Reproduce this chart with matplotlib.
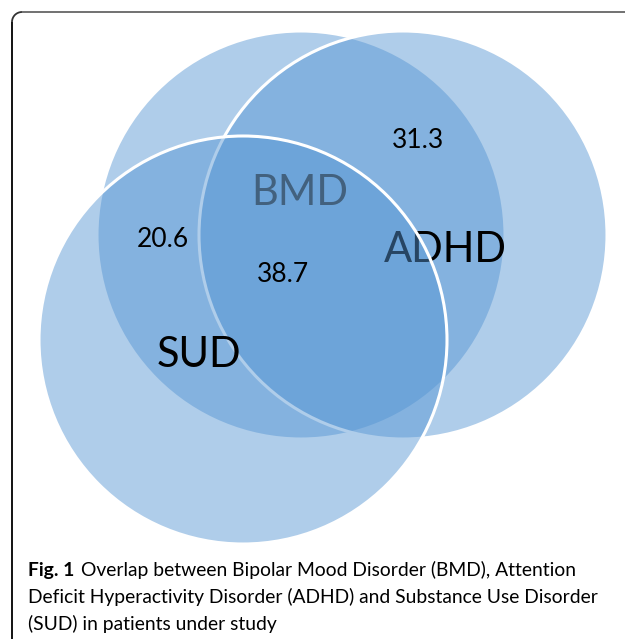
import matplotlib.pyplot as plt
from matplotlib.patches import Circle, Arc

# circle sets (pixel coords of the original figure)
sets = ["BMD", "ADHD", "SUD"]
centers = [(301, 235), (403, 235), (243, 340)]
radius = 204
set_label_pos = [(300, 205), (445, 262), (199, 367)]
set_label_colors = ["#333333", "black", "black"]
set_label_z = [2.5, 2.5, 4]

# overlap percentages
values = ["31.3", "20.6", "38.7"]
value_pos = [(418, 148), (163, 247), (283, 282)]

caption_bold = "Fig. 1"
caption_lines = [
    "Overlap between Bipolar Mood Disorder (BMD), Attention",
    "Deficit Hyperactivity Disorder (ADHD) and Substance Use Disorder",
    "(SUD) in patients under study",
]

fill = (85 / 255, 149 / 255, 211 / 255, 0.47)

fig = plt.figure(figsize=(6.25, 6.39), dpi=100)
ax = fig.add_axes([0, 0, 1, 1])
ax.set_xlim(0, 625)
ax.set_ylim(639, 0)
ax.axis("off")

# frame with rounded corner
ax.plot([12, 12], [639, 22], color="black", lw=1.3, solid_capstyle="butt")
ax.plot([22, 625], [12, 12], color="#666666", lw=1.3, solid_capstyle="butt")
ax.add_patch(Arc((22, 22), 20, 20, theta1=180, theta2=270, color="#333333", lw=1.3))

for i, (name, c) in enumerate(zip(sets, centers)):
    ax.add_patch(Circle(c, radius, facecolor=fill, edgecolor="white", lw=2.2, zorder=1 + i))
    x, y = set_label_pos[i]
    ax.text(x, y, name, fontsize=30, family="Lato", color=set_label_colors[i],
            ha="center", va="baseline", zorder=set_label_z[i])

for v, (x, y) in zip(values, value_pos):
    ax.text(x, y, v, fontsize=19, family="Lato", color="black",
            ha="center", va="baseline", zorder=5)

# caption
fs = 13.9
t = ax.text(28, 576, caption_bold, fontsize=fs, family="Lato", weight="bold",
            ha="left", va="baseline")
ax.annotate(caption_lines[0], xy=(1, 0), xycoords=t, xytext=(5, 0),
            textcoords="offset points", fontsize=fs, family="Lato",
            ha="left", va="bottom")
ax.text(28, 603, caption_lines[1], fontsize=fs, family="Lato", ha="left", va="baseline")
ax.text(28, 630, caption_lines[2], fontsize=fs, family="Lato", ha="left", va="baseline")

fig.savefig("out.png", dpi=100)
